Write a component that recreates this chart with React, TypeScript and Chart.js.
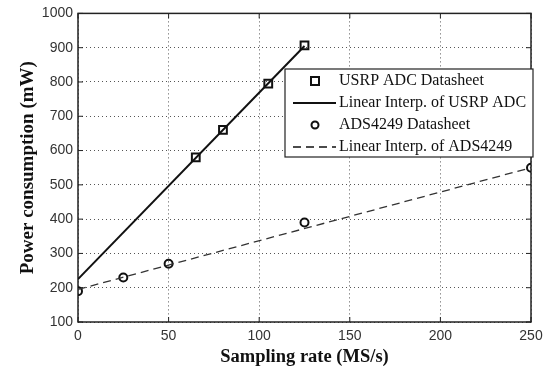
import React, { useEffect, useRef } from "react";
import { Chart, registerables } from "chart.js";
Chart.register(...registerables);

const usrpX = [65, 80, 105, 125];
const usrpY = [580, 660, 795, 907];
const usrpFitX = [0, 125];
const usrpFitY = [225, 905];
const adsX = [0, 25, 50, 125, 250];
const adsY = [190, 230, 270, 390, 550];
const adsFitX = [0, 250];
const adsFitY = [195, 550];
const xTicks = [0, 50, 100, 150, 200, 250];
const yTicks = [100, 200, 300, 400, 500, 600, 700, 800, 900, 1000];
const legendLabels = [
  "USRP ADC Datasheet",
  "Linear Interp. of USRP ADC",
  "ADS4249 Datasheet",
  "Linear Interp. of ADS4249",
];

const pts = (xs: number[], ys: number[]) => xs.map((x, i) => ({ x, y: ys[i] }));

const framePlugin = {
  id: "frame",
  beforeDatasetsDraw(chart: any) {
    const { ctx, chartArea: a } = chart;
    ctx.save();
    ctx.strokeStyle = "#222";
    ctx.lineWidth = 1.5;
    ctx.strokeRect(a.left, a.top, a.right - a.left, a.bottom - a.top);
    const xs = chart.scales.x, ys = chart.scales.y;
    ctx.lineWidth = 1;
    xTicks.forEach((v) => {
      const p = xs.getPixelForValue(v);
      ctx.beginPath();
      ctx.moveTo(p, a.bottom); ctx.lineTo(p, a.bottom - 5);
      ctx.moveTo(p, a.top); ctx.lineTo(p, a.top + 5);
      ctx.stroke();
    });
    yTicks.forEach((v) => {
      const p = ys.getPixelForValue(v);
      ctx.beginPath();
      ctx.moveTo(a.left, p); ctx.lineTo(a.left + 5, p);
      ctx.moveTo(a.right, p); ctx.lineTo(a.right - 5, p);
      ctx.stroke();
    });
    ctx.restore();
  },
};

const legendPlugin = {
  id: "customLegend",
  afterDraw(chart: any) {
    const { ctx } = chart;
    const bx = 285, by = 69, bw = 248, bh = 88;
    ctx.save();
    ctx.fillStyle = "#fff";
    ctx.fillRect(bx, by, bw, bh);
    ctx.strokeStyle = "#222";
    ctx.lineWidth = 1.2;
    ctx.strokeRect(bx, by, bw, bh);
    ctx.font = "16px 'Liberation Serif'";
    ctx.fillStyle = "#111";
    ctx.textBaseline = "middle";
    ctx.textAlign = "left";
    const rows = [81, 103, 125, 147];
    rows.forEach((ry, i) => {
      ctx.fillText(legendLabels[i], 339, ry);
    });
    ctx.strokeStyle = "#111";
    ctx.lineWidth = 2;
    ctx.strokeRect(311, rows[0] - 4, 8, 8);
    ctx.beginPath();
    ctx.moveTo(293, rows[1]); ctx.lineTo(336, rows[1]);
    ctx.stroke();
    ctx.beginPath();
    ctx.arc(315, rows[2], 3.5, 0, Math.PI * 2);
    ctx.stroke();
    ctx.lineWidth = 1.3;
    ctx.setLineDash([8, 5]);
    ctx.beginPath();
    ctx.moveTo(293, rows[3]); ctx.lineTo(336, rows[3]);
    ctx.stroke();
    ctx.restore();
  },
};

export default function App() {
  const ref = useRef<HTMLCanvasElement>(null);
  useEffect(() => {
    document.body.style.margin = "0";
    const chart = new Chart(ref.current as HTMLCanvasElement, {
      type: "scatter",
      data: {
        datasets: [
          {
            data: pts(usrpFitX, usrpFitY),
            showLine: true,
            borderColor: "#111",
            borderWidth: 2,
            pointRadius: 0,
          },
          {
            data: pts(adsFitX, adsFitY),
            showLine: true,
            borderColor: "#333",
            borderWidth: 1.3,
            borderDash: [8, 5],
            pointRadius: 0,
          },
          {
            data: pts(usrpX, usrpY),
            showLine: false,
            pointStyle: "rect",
            pointRadius: 5.5,
            pointBorderWidth: 2,
            pointBorderColor: "#111",
            pointBackgroundColor: "rgba(0,0,0,0)",
          },
          {
            data: pts(adsX, adsY),
            showLine: false,
            pointStyle: "circle",
            pointRadius: 4,
            pointBorderWidth: 2,
            pointBorderColor: "#111",
            pointBackgroundColor: "rgba(0,0,0,0)",
          },
        ],
      },
      options: {
        animation: false,
        responsive: false,
        layout: { padding: { top: 10, right: 21, left: 0, bottom: 0 } },
        plugins: { legend: { display: false }, tooltip: { enabled: false } },
        scales: {
          x: {
            type: "linear",
            min: 0,
            max: 250,
            afterBuildTicks: (s: any) => { s.ticks = xTicks.map((v) => ({ value: v })); },
            afterFit: (s: any) => { s.height = 46; },
            grid: { color: "#555", lineWidth: 1, drawTicks: false },
            border: { display: false, dash: [1, 3] },
            ticks: { padding: 6, color: "#333", font: { family: "'Liberation Sans'", size: 14 }, callback: (v: any) => String(v) },
            title: {
              display: true,
              text: "Sampling rate (MS/s)",
              color: "#111",
              font: { family: "'Liberation Serif'", size: 18.5, weight: "bold" },
              padding: { top: 0, bottom: 0 },
            },
          },
          y: {
            type: "linear",
            min: 100,
            max: 1000,
            afterBuildTicks: (s: any) => { s.ticks = yTicks.map((v) => ({ value: v })); },
            afterFit: (s: any) => { s.width = 78; },
            grid: { color: "#555", lineWidth: 1, drawTicks: false },
            border: { display: false, dash: [1, 3] },
            ticks: { padding: 5, color: "#333", font: { family: "'Liberation Sans'", size: 14 }, callback: (v: any) => String(v) },
            title: {
              display: true,
              text: "Power consumption (mW)",
              color: "#111",
              font: { family: "'Liberation Serif'", size: 19, weight: "bold" },
              padding: { top: 17, bottom: 0 },
            },
          },
        },
      },
      plugins: [framePlugin, legendPlugin],
    });
    return () => chart.destroy();
  }, []);
  return <canvas ref={ref} width={552} height={368} style={{ display: "block" }} />;
}
